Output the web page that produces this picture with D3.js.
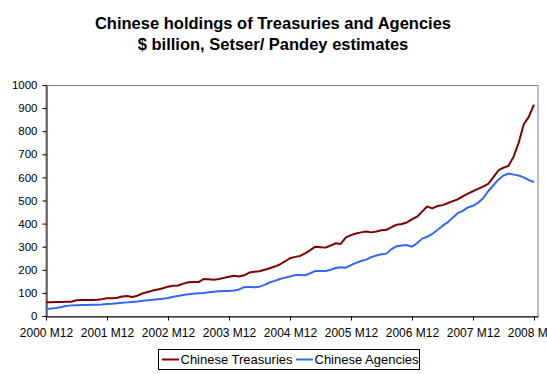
<!DOCTYPE html>
<html>
<head>
<meta charset="utf-8">
<script src="https://cdn.jsdelivr.net/npm/d3@7/dist/d3.min.js"></script>
<style>
  body { margin: 0; background: #fff; }
  svg { display: block; font-family: "Liberation Sans", Arial, sans-serif; }
  .axis path, .axis line { stroke: #000; }
  .axis text { fill: #000; }
</style>
</head>
<body>
<svg id="chart"></svg>
<script>
/* data, monthly from 2000 M12 */
const tickLabels = ['2000 M12','2001 M12','2002 M12','2003 M12','2004 M12','2005 M12','2006 M12','2007 M12','2008 M12']
const yTicks = [0,100,200,300,400,500,600,700,800,900,1000]

const treasuries = [60,60,61,61,62,62,68,69,69,69,70,73,77,77,79,84,87,82,88,98,
  104,110,115,120,127,131,132,140,146,147,147,160,159,157,160,165,170,174,171,176,
  188,192,194,200,207,214,223,236,250,256,260,271,285,300,298,296,305,315,312,340,
  350,357,362,366,362,366,371,373,385,395,398,405,418,430,452,474,466,476,480,488,
  497,505,518,530,540,550,560,572,600,630,642,650,690,750,830,862,915]

const agencies = [30,32,35,39,43,46,47,48,48,49,49,50,52,53,55,57,59,61,63,66,
  68,70,73,75,78,83,87,91,94,96,98,100,103,105,107,108,108,110,115,125,
  126,124,127,135,145,152,160,166,171,177,178,176,185,195,195,195,200,208,211,209,
  220,230,238,244,255,262,267,270,290,302,305,307,300,315,335,343,355,372,390,405,
  425,445,455,470,477,490,510,540,565,590,608,617,612,608,600,588,580]

const seriesNames = ['Chinese Treasuries','Chinese Agencies']
const seriesColors = ['#800000','#3366ff']

const width = 547, height = 374
const plot = {left: 46, right: 538, top: 85, bottom: 316}

const svg = d3.select('#chart').attr('width', width).attr('height', height)

/* titre */
svg.append('text').attr('x', 273).attr('y', 29).attr('text-anchor','middle')
   .style('font-size','16.5px').style('font-weight','bold')
   .text('Chinese holdings of Treasuries and Agencies')
svg.append('text').attr('x', 273).attr('y', 50).attr('text-anchor','middle')
   .style('font-size','16.5px').style('font-weight','bold')
   .text('$ billion, Setser/ Pandey estimates')

const x = d3.scaleLinear().domain([0, 96.8]).range([plot.left, plot.right])
const y = d3.scaleLinear().domain([0, 1000]).range([plot.bottom, plot.top])

/* cadre de la zone de tracé */
svg.append('rect')
   .attr('x', plot.left).attr('y', plot.top + 0.5)
   .attr('width', plot.right - plot.left).attr('height', plot.bottom - plot.top)
   .attr('fill','none').attr('stroke','#808080').attr('stroke-width',1)

const xAxis = d3.axisBottom(x)
   .tickValues(tickLabels.map((d,i) => i*12))
   .tickFormat((d,i) => tickLabels[i])
   .tickSize(4).tickPadding(8).tickSizeOuter(0)

svg.append('g').attr('class','axis')
   .style('font-size','12px')
   .attr('transform','translate(0,' + (plot.bottom + 0.5) + ')')
   .call(xAxis)

const yAxis = d3.axisLeft(y).tickValues(yTicks).tickFormat(d3.format('d'))
   .tickSize(4).tickPadding(5).tickSizeOuter(0)

svg.append('g').attr('class','axis')
   .style('font-size','11.5px')
   .attr('transform','translate(' + (plot.left + 0.5) + ',0)')
   .call(yAxis)

svg.selectAll('.axis text').attr('font-size', null).attr('font-family', null)

/* lignes */
const line = d3.line().x((d,i) => x(i)).y(d => y(d))

;[treasuries, agencies].forEach((serie, k) => {
  svg.append('path')
     .datum(serie)
     .attr('d', line)
     .attr('fill','none')
     .attr('stroke', seriesColors[k])
     .attr('stroke-width', 2)
     .attr('stroke-linejoin','round')
})

/* légende */
const legend = svg.append('g')
legend.append('rect')
   .attr('x', 158.5).attr('y', 349.5).attr('width', 261).attr('height', 20)
   .attr('fill','#fff').attr('stroke','#000').attr('stroke-width',1)

const legendX = [162, 296]
seriesNames.forEach((name, k) => {
  legend.append('line')
     .attr('x1', legendX[k]).attr('x2', legendX[k] + 17)
     .attr('y1', 359.5).attr('y2', 359.5)
     .attr('stroke', seriesColors[k]).attr('stroke-width', 2)
  legend.append('text')
     .attr('x', legendX[k] + 18.5).attr('y', 363.5)
     .style('font-size','13px')
     .text(name)
})
</script>
</body>
</html>
